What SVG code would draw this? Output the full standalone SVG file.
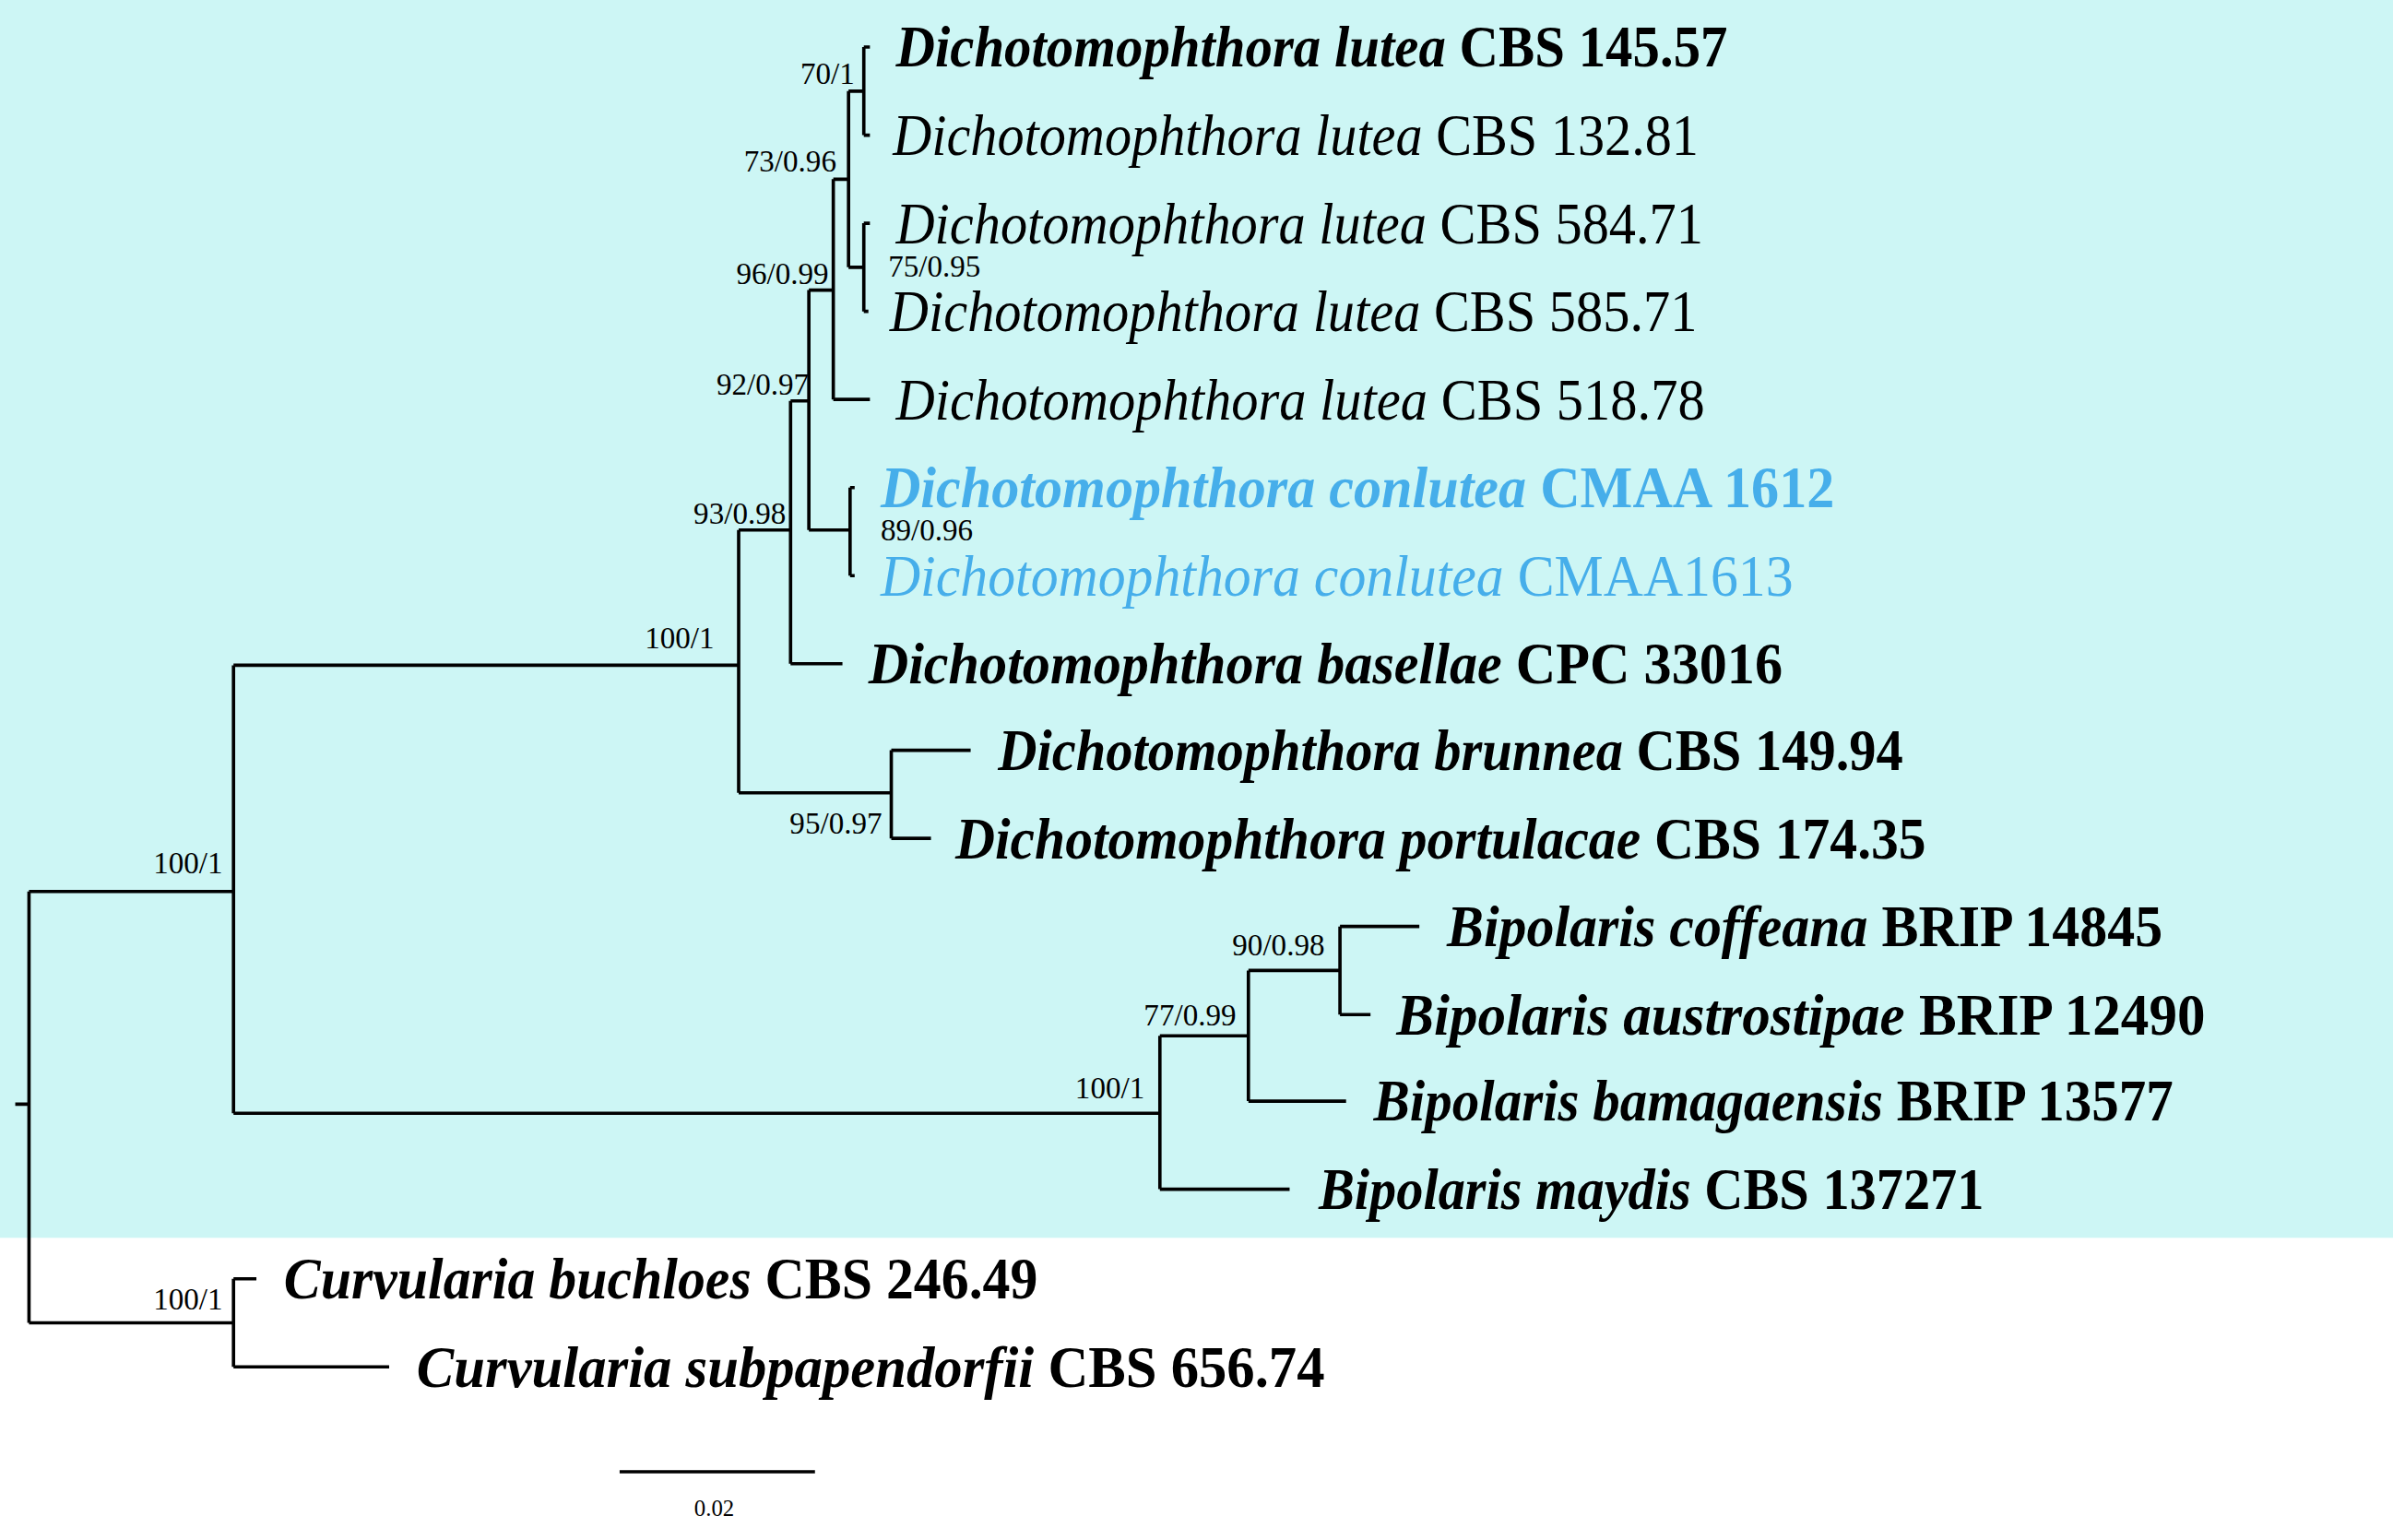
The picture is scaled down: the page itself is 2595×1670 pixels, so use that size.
<svg xmlns="http://www.w3.org/2000/svg" width="2595" height="1670" viewBox="0 0 2595 1670">
<style>
.t{font-family:"Liberation Serif",serif;font-size:38px;fill:#000}
.b{font-weight:bold}
.i{font-style:italic}
.blue{fill:#46aeea}
.s{font-family:"Liberation Serif",serif;font-size:20px;fill:#000}
.br path{fill:none;stroke:#000;stroke-width:2.2}
</style>
<rect width="2595" height="1670" fill="#fff"/>
<g transform="scale(1.655,1.647)">
<rect x="0" y="0" width="1568" height="815" fill="#cdf6f5"/>
<g id="connectors" class="br">
<path d="M10 727H19M19 587V871M19 587H153M19 871H153"/>
<path d="M153 438V733M153 438H484M153 733H760"/>
<path d="M484 349V522M484 349H518M484 522H584"/>
<path d="M518 264V437M518 264H530M518 437H552"/>
<path d="M530 191V349M530 191H546M530 349H557"/>
<path d="M557 321V379M557 321H560M557 379H560"/>
<path d="M546 118V263M546 118H556M546 263H570"/>
<path d="M556 60V176M556 60H566M556 176H566"/>
<path d="M566 31V89M566 31H570M566 89H570"/>
<path d="M566 147V205M566 147H570M566 205H569"/>
<path d="M584 494V552M584 494H636M584 552H610"/>
<path d="M760 682V783M760 682H818M760 783H845"/>
<path d="M818 639V725M818 639H878M818 725H882"/>
<path d="M878 610V668M878 610H930M878 668H898"/>
<path d="M153 842V900M153 842H168M153 900H255"/>
<path d="M406 969H534"/>
</g>
<g id="support" class="s">
<text x="560" y="55" text-anchor="end">70/1</text>
<text x="548" y="113" text-anchor="end">73/0.96</text>
<text x="582" y="182">75/0.95</text>
<text x="543" y="187" text-anchor="end">96/0.99</text>
<text x="530" y="260" text-anchor="end">92/0.97</text>
<text x="577" y="356">89/0.96</text>
<text x="515" y="345" text-anchor="end">93/0.98</text>
<text x="468" y="427" text-anchor="end">100/1</text>
<text x="578" y="549" text-anchor="end">95/0.97</text>
<text x="146" y="575" text-anchor="end">100/1</text>
<text x="868" y="629" text-anchor="end">90/0.98</text>
<text x="810" y="675" text-anchor="end">77/0.99</text>
<text x="750" y="723" text-anchor="end">100/1</text>
<text x="146" y="862" text-anchor="end">100/1</text>
<text x="468" y="998" text-anchor="middle" font-size="15">0.02</text>
</g>
<g id="tips" class="t">
<text id="n1" x="587" y="44" class="b" textLength="545" lengthAdjust="spacingAndGlyphs"><tspan class="i">Dichotomophthora lutea</tspan> CBS 145.57</text>
<text id="n2" x="585" y="102" textLength="528" lengthAdjust="spacingAndGlyphs"><tspan class="i">Dichotomophthora lutea</tspan> CBS 132.81</text>
<text id="n3" x="587" y="160" textLength="529" lengthAdjust="spacingAndGlyphs"><tspan class="i">Dichotomophthora lutea</tspan> CBS 584.71</text>
<text id="n4" x="583" y="218" textLength="529" lengthAdjust="spacingAndGlyphs"><tspan class="i">Dichotomophthora lutea</tspan> CBS 585.71</text>
<text id="n5" x="587" y="276" textLength="530" lengthAdjust="spacingAndGlyphs"><tspan class="i">Dichotomophthora lutea</tspan> CBS 518.78</text>
<text id="n6" x="577" y="334" class="b blue" textLength="625" lengthAdjust="spacingAndGlyphs"><tspan class="i">Dichotomophthora conlutea</tspan> CMAA 1612</text>
<text id="n7" x="577" y="392" class="blue" textLength="598" lengthAdjust="spacingAndGlyphs"><tspan class="i">Dichotomophthora conlutea</tspan> CMAA1613</text>
<text id="n8" x="569" y="450" class="b" textLength="599" lengthAdjust="spacingAndGlyphs"><tspan class="i">Dichotomophthora basellae</tspan> CPC 33016</text>
<text id="n9" x="654" y="507" class="b" textLength="593" lengthAdjust="spacingAndGlyphs"><tspan class="i">Dichotomophthora brunnea</tspan> CBS 149.94</text>
<text id="n10" x="626" y="565" class="b" textLength="636" lengthAdjust="spacingAndGlyphs"><tspan class="i">Dichotomophthora portulacae</tspan> CBS 174.35</text>
<text id="n11" x="948" y="623" class="b" textLength="469" lengthAdjust="spacingAndGlyphs"><tspan class="i">Bipolaris coffeana</tspan> BRIP 14845</text>
<text id="n12" x="915" y="681" class="b" textLength="530" lengthAdjust="spacingAndGlyphs"><tspan class="i">Bipolaris austrostipae</tspan> BRIP 12490</text>
<text id="n13" x="900" y="738" class="b" textLength="524" lengthAdjust="spacingAndGlyphs"><tspan class="i">Bipolaris bamagaensis</tspan> BRIP 13577</text>
<text id="n14" x="864" y="796" class="b" textLength="436" lengthAdjust="spacingAndGlyphs"><tspan class="i">Bipolaris maydis</tspan> CBS 137271</text>
<text id="n15" x="186" y="855" class="b" textLength="494" lengthAdjust="spacingAndGlyphs"><tspan class="i">Curvularia buchloes</tspan> CBS 246.49</text>
<text id="n16" x="273" y="913" class="b" textLength="595" lengthAdjust="spacingAndGlyphs"><tspan class="i">Curvularia subpapendorfii</tspan> CBS 656.74</text>
</g>
</g>
</svg>
